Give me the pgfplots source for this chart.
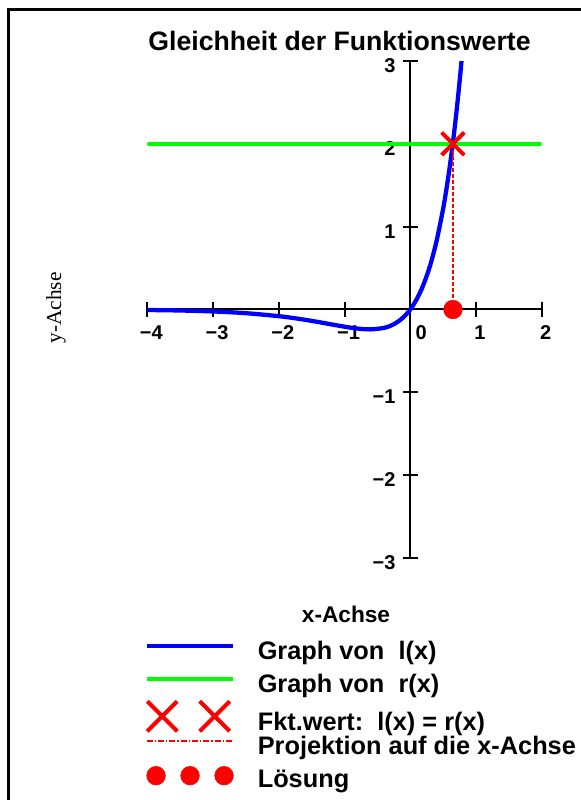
\documentclass[border=0pt]{standalone}
\usepackage{pgfplots}
\pgfplotsset{compat=1.18}
\usepackage{fontspec}
\setmainfont{Liberation Sans}
\newfontfamily\seriffont{Liberation Serif}
\definecolor{pblue}{RGB}{0,0,255}
\definecolor{pgreen}{RGB}{0,255,0}
\definecolor{pred}{RGB}{255,0,0}
\begin{document}
\begin{tikzpicture}[x=0.75pt,y=0.75pt]
\useasboundingbox (0,0) rectangle (581,800);
\draw[line width=2.25pt] (8,-5) -- (8,790) -- (590,790);
\node[font=\bfseries\fontsize{20}{24}\selectfont] at (339.5,759.5) {Gleichheit der Funktionswerte};
\node[font=\seriffont\fontsize{16}{18}\selectfont, rotate=90] at (56,492) {y-Achse};
\node[font=\bfseries\fontsize{17}{20}\selectfont] at (346,186) {x-Achse};
\coordinate (SW) at (147.3,242);
\begin{axis}[
  anchor=south west, at={(SW)},
  scale only axis, width=295.8pt, height=372.75pt,
  xmin=-4, xmax=2, ymin=-3, ymax=3,
  axis lines=middle,
  axis line style={line width=1.5pt,-,black},
  hide obscured x ticks=false, hide obscured y ticks=false,
  xtick={-4,-3,-2,-1,0,1,2},
  xticklabels={−4,−3,−2,−1,\makebox[0pt][l]{\hspace{1pt}0},1,2},
  ytick={-3,-2,-1,0,1,2,3},
  yticklabels={−3,−2,−1,,1,2,3},
  major tick length=11pt, tick align=center,
  tick style={black, line width=1.5pt},
  ticklabel style={font=\bfseries\fontsize{15}{17}\selectfont},
  xticklabel style={anchor=north, xshift=3pt, yshift=-3pt},
  yticklabel style={anchor=east, xshift=-2pt, yshift=-3.5pt},
  legend style={at={(-0.0015,-0.1724)}, anchor=north west, draw=none, fill=none,
    font=\bfseries\fontsize{19}{21}\selectfont, column sep=18.3pt, row sep=0pt,
    inner sep=0pt, outer sep=0pt, nodes={inner sep=0pt, text height=0pt, text depth=0pt}},
  legend cell align=left,
]
\addplot[pgreen, line width=3pt, forget plot] coordinates {(-4,2) (2,2)};
\addplot[pblue, line width=3.2pt, smooth,
  legend image code/.code={\path[draw=none,fill=none] (0,-12.375pt) rectangle (65pt,12pt);
    \draw[overlay,pblue,line width=3.5pt] (0,10.3pt)--(65pt,10.3pt);}]
  coordinates {
  (-4,-0.00607) (-3.5,-0.01204) (-3,-0.02343) (-2.5,-0.04433) (-2,-0.08052)
  (-1.75,-0.10617) (-1.5,-0.13712) (-1.25,-0.17218) (-1,-0.20756) (-0.8,-0.23050)
  (-0.6,-0.23999) (-0.4,-0.22210) (-0.3,-0.19626) (-0.2,-0.15416) (-0.1,-0.09082)
  (0,0) (0.1,0.12607) (0.2,0.29707) (0.3,0.52503) (0.4,0.82478) (0.5,1.21472)
  (0.55,1.45040) (0.6,1.71746) (0.65,2.01958) (0.7,2.36078) (0.75,2.74554) (0.78,2.99937)
  };
\addlegendentry{Graph von\ \ l(x)}
\addlegendimage{legend image code/.code={\path[draw=none,fill=none] (0,-14.25pt) rectangle (65pt,12.375pt);
    \draw[overlay,pgreen,line width=3.5pt] (0,10.3pt)--(65pt,10.3pt);}}
\addlegendentry{Graph von\ \ r(x)}
\addplot[pred, only marks, mark=x, mark size=12pt, mark options={line width=3pt},
  legend image code/.code={\path[draw=none,fill=none] (0,-9pt) rectangle (65pt,14.25pt);
   \begin{scope}[overlay, yshift=10.8pt]
   \draw[pred,line width=3pt] (0.4pt,-11.25pt)--(22.9pt,11.25pt) (0.4pt,11.25pt)--(22.9pt,-11.25pt)
     (39.75pt,-11.25pt)--(62.25pt,11.25pt) (39.75pt,11.25pt)--(62.25pt,-11.25pt);
   \end{scope}}]
  coordinates {(0.65,2)};
\addlegendentry{Fkt.wert:\ \ l(x) = r(x)}
\addplot[pred, line width=1.3pt, dash pattern=on 3pt off 1.5pt,
  legend image code/.code={\path[draw=none,fill=none] (0,-12.375pt) rectangle (65pt,9pt);
    \draw[overlay,pred,line width=1pt,dash pattern=on 4.5pt off 1.5pt on 1pt off 1.5pt] (0,10.3pt)--(65pt,10.3pt);}]
  coordinates {(0.65,2) (0.65,0)};
\addlegendentry{Projektion auf die x-Achse}
\addplot[pred, only marks, mark=*, mark size=7pt, mark options={draw=pred, fill=pred},
  legend image code/.code={\path[draw=none,fill=none] (0,-8pt) rectangle (65pt,12.375pt);
   \fill[overlay,pred] (7pt,9pt) circle (7pt) (32.5pt,9pt) circle (7pt) (58pt,9pt) circle (7pt);}]
  coordinates {(0.65,0)};
\addlegendentry{Lösung}
\end{axis}
\end{tikzpicture}
\end{document}
